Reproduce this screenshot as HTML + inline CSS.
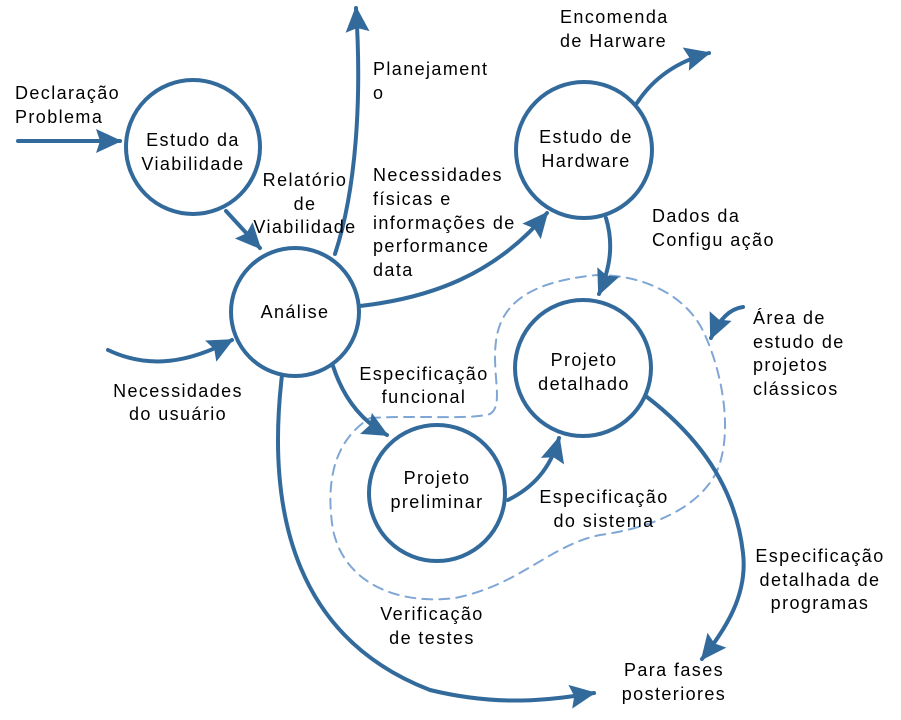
<!DOCTYPE html>
<html><head><meta charset="utf-8"><style>
html,body{margin:0;padding:0;background:#fff;}
svg{display:block}
text{font-family:"Liberation Sans","DejaVu Sans",sans-serif;font-size:18px;letter-spacing:1.4px;fill:#000;}
</style></head><body>
<svg width="901" height="720" viewBox="0 0 901 720" xmlns="http://www.w3.org/2000/svg">
<defs>
<marker id="a" markerUnits="userSpaceOnUse" markerWidth="30" markerHeight="26" refX="24" refY="12" orient="auto" overflow="visible">
<path d="M0,0 L26,12 L0,24 L4,12 Z" fill="#336a9c"/>
</marker>
</defs>
<g fill="none" stroke="#336a9c" stroke-width="4" stroke-linecap="round">
<path d="M370,418 C420,415 470,420 490,414 C505,405 490,370 497,335 C505,295 545,280 597,275 C650,275 690,300 705,335 C725,380 733,440 715,475 C695,510 650,528 600,535 C550,545 520,585 455,598 C400,605 345,585 333,530 C325,480 335,440 370,418 Z" stroke="#7fa6d4" stroke-width="2" stroke-dasharray="10,7"/>
<circle cx="193" cy="147" r="67"/>
<circle cx="295" cy="312" r="64"/>
<circle cx="584" cy="150" r="68"/>
<circle cx="583" cy="368" r="68"/>
<circle cx="437" cy="493" r="68"/>
<path d="M18,141 L120,141" marker-end="url(#a)"/>
<path d="M226,211 L260,248" marker-end="url(#a)"/>
<path d="M335,254 C356,190 362,100 356,8" marker-end="url(#a)"/>
<path d="M360,306 C430,298 495,275 547,213" marker-end="url(#a)"/>
<path d="M108,350 C150,370 190,362 232,340" marker-end="url(#a)"/>
<path d="M637,103 C652,80 675,62 709,53" marker-end="url(#a)"/>
<path d="M606,218 C614,245 610,268 599,294" marker-end="url(#a)"/>
<path d="M333,366 C343,397 360,420 387,435" marker-end="url(#a)"/>
<path d="M508,500 C532,488 550,470 559,438" marker-end="url(#a)"/>
<path d="M647,397 C690,430 735,480 743,553 C748,595 725,630 702,659" marker-end="url(#a)"/>
<path d="M282,375 C265,520 300,640 430,690 C500,707 550,700 594,693" marker-end="url(#a)"/>
<path d="M743,307 C728,309 718,322 711,338" marker-end="url(#a)"/>
</g>
<text x="15" y="99">Declaração</text>
<text x="15" y="123">Problema</text>
<text x="193" y="146" text-anchor="middle">Estudo da</text>
<text x="193" y="170" text-anchor="middle">Viabilidade</text>
<text x="305" y="186" text-anchor="middle">Relatório</text>
<text x="305" y="210" text-anchor="middle">de</text>
<text x="305" y="233" text-anchor="middle">Viabilidade</text>
<text x="295" y="318" text-anchor="middle">Análise</text>
<text x="373" y="75">Planejament</text>
<text x="373" y="99">o</text>
<text x="373" y="181">Necessidades</text>
<text x="373" y="205">físicas e</text>
<text x="373" y="229">informações de</text>
<text x="373" y="252">performance</text>
<text x="373" y="276">data</text>
<text x="560" y="23">Encomenda</text>
<text x="560" y="47">de Harware</text>
<text x="586" y="143" text-anchor="middle">Estudo de</text>
<text x="586" y="167" text-anchor="middle">Hardware</text>
<text x="652" y="222">Dados da</text>
<text x="652" y="246">Configu ação</text>
<text x="753" y="324">Área de</text>
<text x="753" y="348">estudo de</text>
<text x="753" y="371">projetos</text>
<text x="753" y="395">clássicos</text>
<text x="584" y="366" text-anchor="middle">Projeto</text>
<text x="584" y="390" text-anchor="middle">detalhado</text>
<text x="424" y="380" text-anchor="middle">Especificação</text>
<text x="424" y="403" text-anchor="middle">funcional</text>
<text x="178" y="397" text-anchor="middle">Necessidades</text>
<text x="178" y="420" text-anchor="middle">do usuário</text>
<text x="437" y="484" text-anchor="middle">Projeto</text>
<text x="437" y="508" text-anchor="middle">preliminar</text>
<text x="604" y="503" text-anchor="middle">Especificação</text>
<text x="604" y="527" text-anchor="middle">do sistema</text>
<text x="820" y="562" text-anchor="middle">Especificação</text>
<text x="820" y="586" text-anchor="middle">detalhada de</text>
<text x="820" y="609" text-anchor="middle">programas</text>
<text x="432" y="620" text-anchor="middle">Verificação</text>
<text x="432" y="644" text-anchor="middle">de testes</text>
<text x="674" y="676" text-anchor="middle">Para fases</text>
<text x="674" y="700" text-anchor="middle">posteriores</text>
</svg>
</body></html>
